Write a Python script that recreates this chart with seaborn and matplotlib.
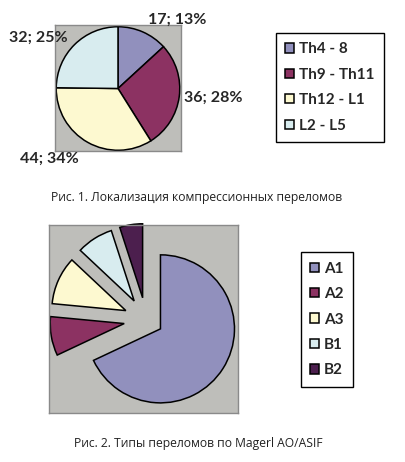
import matplotlib
matplotlib.use("Agg")
import matplotlib.pyplot as plt
import seaborn as sns
import numpy as np

sns.set_style("white")
plt.rcParams["font.family"] = ["Lato", "DejaVu Sans"]

# figure 1 - localisation
loc_names = ["Th4 - 8", "Th9 - Th11", "Th12 - L1", "L2 - L5"]
loc_counts = [17, 36, 44, 32]
loc_pct = [13, 28, 34, 25]

# figure 2 - fracture types (percent)
type_names = ["A1", "A2", "A3", "B1", "B2"]
type_pct = [68, 8.5, 10.5, 8, 5]

colors = ["#9190bd", "#8c3262", "#fdf9d0", "#d8ecef", "#4c1f4e"]
plot_bg = "#bebeba"

W, H = 405, 462
fig = plt.figure(figsize=(W / 100, H / 100), dpi=100)


def px_axes(x0, y0, x1, y1):
    # axes from pixel box (top-left origin)
    return fig.add_axes([x0 / W, 1 - y1 / H, (x1 - x0) / W, (y1 - y0) / H])


def style_box(ax):
    ax.set_frame_on(True)
    ax.set_facecolor(plot_bg)
    ax.set_xticks([])
    ax.set_yticks([])
    for s in ax.spines.values():
        s.set_visible(True)
        s.set_color("#8a8a8a")
        s.set_linewidth(1.0)


leg_kw = dict(loc="center", bbox_transform=fig.transFigure,
              frameon=True, fancybox=False, edgecolor="black", framealpha=1,
              prop=dict(family="Lato", size=11, weight="bold"),
              handlelength=0.55, handleheight=0.55, handletextpad=0.35,
              labelspacing=0.75, borderpad=0.6, borderaxespad=0)

# ---- chart 1 ----
ax1 = px_axes(55, 25, 181, 152)
labels1 = [f"{c}; {p}%" for c, p in zip(loc_counts, loc_pct)]
wedges1, _ = ax1.pie(loc_counts, colors=colors[:4], startangle=90, counterclock=False,
                     frame=True,
                     wedgeprops=dict(edgecolor="black", linewidth=1.1))
ax1.set_xlim(-1.02, 1.02)
ax1.set_ylim(-1.02, 1.02)
style_box(ax1)

label_r = [1.22, 1.08, 1.3, 1.16]
for w, lab, r in zip(wedges1, labels1, label_r):
    mid = np.deg2rad((w.theta1 + w.theta2) / 2)
    x, y = r * np.cos(mid), r * np.sin(mid)
    ax1.text(x, y, lab, ha="left" if x > 0 else "right", va="center",
             fontsize=11.5, fontweight="bold", clip_on=False)

fig.legend(wedges1, loc_names, bbox_to_anchor=(330 / W, 1 - 87.5 / H), **leg_kw)

fig.text(197 / W, 1 - 197 / H, "Рис. 1. Локализация компрессионных переломов",
         ha="center", va="center", fontsize=8.7, color="#222222", family="Open Sans")

# ---- chart 2 ----
ax2 = px_axes(49, 225, 238, 413)
wedges2, _ = ax2.pie(type_pct, colors=colors, startangle=90, counterclock=False,
                     explode=[0.23, 0.3, 0.3, 0.3, 0.3], frame=True,
                     wedgeprops=dict(edgecolor="black", linewidth=1.1))
ax2.set_xlim(-1.31, 1.24)
ax2.set_ylim(-1.26, 1.28)
style_box(ax2)

fig.legend(wedges2, type_names, bbox_to_anchor=(327 / W, 1 - 319.5 / H), **leg_kw)

fig.text(198 / W, 1 - 443 / H, "Рис. 2. Типы переломов по Magerl AO/ASIF",
         ha="center", va="center", fontsize=8.7, color="#222222", family="Open Sans")

fig.savefig("out.png", dpi=100)
